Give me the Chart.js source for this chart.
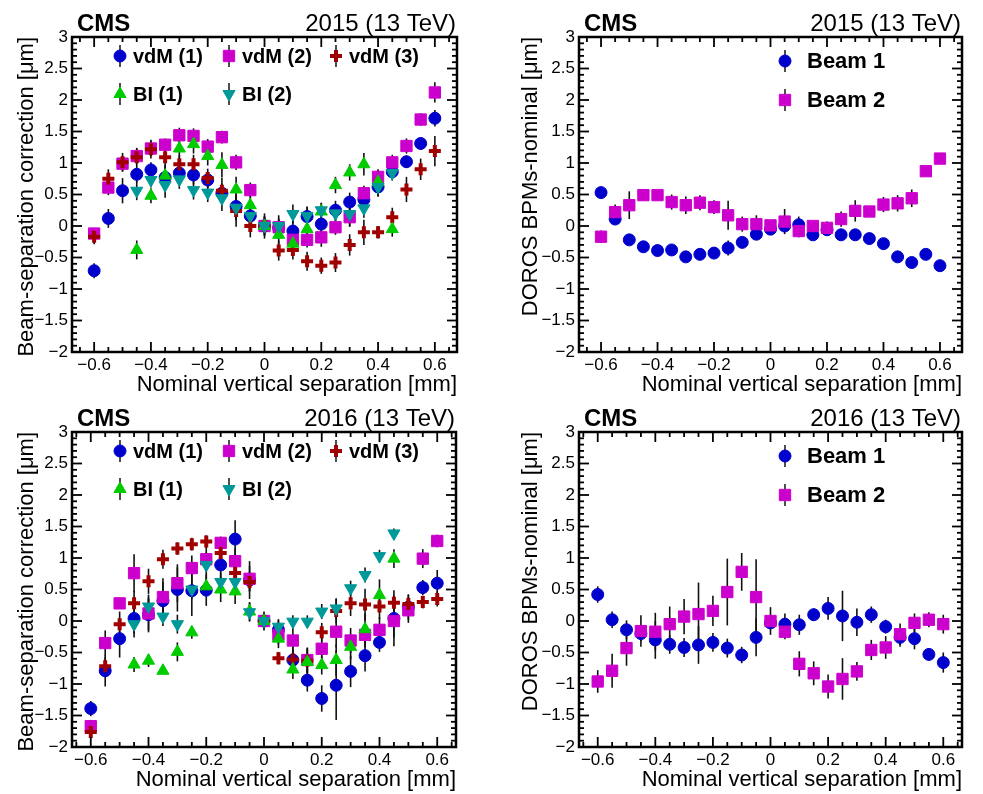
<!DOCTYPE html>
<html>
<head>
<meta charset="utf-8">
<script src="https://cdn.jsdelivr.net/npm/chart.js@4.4.1/dist/chart.umd.min.js"></script>
<style>
  body { margin: 0; background: #fff; }
  #wrap { position: relative; width: 983px; height: 794px; }
  #wrap canvas { position: absolute; left: 0; top: 0; }
</style>
</head>
<body>
<div id="wrap">
  <canvas id="tl" width="983" height="794"></canvas>
  <canvas id="tr" width="983" height="794"></canvas>
  <canvas id="bl" width="983" height="794"></canvas>
  <canvas id="br" width="983" height="794"></canvas>
</div>
<script>
// Scan points (nominal vertical separation, mm)
const sepVdM = [-0.6, -0.55, -0.5, -0.45, -0.4, -0.35, -0.3, -0.25, -0.2, -0.15, -0.1, -0.05, 0,
                0.05, 0.1, 0.15, 0.2, 0.25, 0.3, 0.35, 0.4, 0.45, 0.5, 0.55, 0.6];
const sepBI = [-0.45, -0.4, -0.35, -0.3, -0.25, -0.2, -0.15, -0.1, -0.05, 0,
               0.05, 0.1, 0.15, 0.2, 0.25, 0.3, 0.35, 0.4, 0.45];

// 2015 beam-separation correction [um]
const vdm1_2015 = [-0.71, 0.12, 0.56, 0.82, 0.89, 0.77, 0.84, 0.81, 0.73, 0.52, 0.31, 0.16, 0,
                   -0.03, -0.08, 0.15, 0.03, 0.25, 0.38, 0.42, 0.62, 0.86, 1.02, 1.31, 1.71];
const vdm2_2015 = [-0.12, 0.61, 0.99, 1.11, 1.23, 1.29, 1.44, 1.43, 1.26, 1.41, 1.01, 0.57, 0,
                   -0.02, -0.22, -0.22, -0.18, -0.02, 0.14, 0.52, 0.78, 1.01, 1.27, 1.69, 2.12];
const vdm3_2015 = [-0.17, 0.75, 1.01, 1.09, 1.22, 1.09, 0.98, 0.98, 0.76, 0.56, 0.24, 0, 0,
                   -0.39, -0.38, -0.56, -0.63, -0.58, -0.30, -0.10, -0.10, 0.14, 0.58, 0.90, 1.19];
const bi1_2015 = [-0.38, 0.48, 0.80, 1.23, 1.30, 1.11, 0.97, 0.58, 0.33, 0,
                  -0.14, -0.28, -0.05, 0.23, 0.65, 0.85, 0.98, 0.70, -0.05];
const bi2_2015 = [0.56, 0.73, 0.65, 0.74, 0.57, 0.53, 0.44, 0.29, 0.16, 0,
                  0, 0.19, 0.16, 0.25, 0.20, 0.19, 0.28, 0.62, 0.84];
const vdm1Err_2015 = [0.12, 0.15, 0.2, 0.13, 0.12, 0.2, 0.15, 0.15, 0.13, 0.15, 0.2, 0.2, 0.15,
                      0.15, 0.18, 0.15, 0.15, 0.15, 0.15, 0.2, 0.15, 0.1, 0.1, 0.1, 0.13];
const vdm2Err_2015 = [0.09, 0.12, 0.12, 0.12, 0.12, 0.1, 0.12, 0.12, 0.12, 0.1, 0.12, 0.12, 0.1,
                      0.12, 0.15, 0.12, 0.15, 0.12, 0.15, 0.12, 0.12, 0.12, 0.12, 0.1, 0.16];
const vdm3Err_2015 = [0.12, 0.15, 0.15, 0.15, 0.15, 0.15, 0.15, 0.15, 0.15, 0.2, 0.25, 0.18, 0.2,
                      0.16, 0.15, 0.15, 0.13, 0.15, 0.17, 0.2, 0.1, 0.15, 0.2, 0.17, 0.24];
const bi1Err_2015 = [0.15, 0.12, 0.15, 0.15, 0.15, 0.15, 0.2, 0.2, 0.15, 0.15,
                     0.15, 0.15, 0.15, 0.13, 0.13, 0.13, 0.18, 0.18, 0.12];
const bi2Err_2015 = [0.15, 0.12, 0.2, 0.15, 0.15, 0.15, 0.2, 0.2, 0.15, 0.15,
                     0.17, 0.15, 0.15, 0.12, 0.15, 0.2, 0.15, 0.15, 0.12];

// 2015 DOROS BPMs - nominal [um]
const beam1_2015 = [0.53, 0.11, -0.22, -0.33, -0.39, -0.38, -0.49, -0.45, -0.43, -0.35, -0.26, -0.13, -0.05,
                    0.0, 0.02, -0.14, -0.06, -0.14, -0.14, -0.20, -0.28, -0.49, -0.58, -0.45, -0.63];
const beam2_2015 = [-0.17, 0.22, 0.33, 0.49, 0.49, 0.38, 0.33, 0.37, 0.30, 0.17, 0.03, 0.03, 0.01,
                    0.07, -0.08, 0.0, -0.03, 0.11, 0.24, 0.23, 0.34, 0.36, 0.44, 0.87, 1.07];
const beam1Err_2015 = [0.05, 0.05, 0.04, 0.04, 0.04, 0.04, 0.04, 0.04, 0.04, 0.12, 0.08, 0.06, 0.05,
                       0.06, 0.13, 0.05, 0.05, 0.04, 0.04, 0.04, 0.04, 0.04, 0.04, 0.04, 0.04];
const beam2Err_2015 = [0.1, 0.12, 0.22, 0.05, 0.05, 0.12, 0.14, 0.12, 0.11, 0.23, 0.12, 0.14, 0.08,
                       0.2, 0.1, 0.08, 0.1, 0.12, 0.17, 0.05, 0.12, 0.13, 0.14, 0.05, 0.05];

// 2016 beam-separation correction [um]
const vdm1_2016 = [-1.39, -0.79, -0.28, 0.04, 0.10, 0.32, 0.50, 0.48, 0.49, 0.89, 1.30, 0.65, 0,
                   -0.14, -0.62, -0.94, -1.23, -1.02, -0.80, -0.55, -0.34, 0.04, 0.22, 0.53, 0.60];
const vdm2_2016 = [-1.67, -0.35, 0.28, 0.76, 0.12, 0.38, 0.60, 0.84, 0.98, 1.24, 0.95, 0.67, 0,
                   -0.22, -0.31, -0.62, -0.44, -0.17, -0.31, -0.22, -0.14, 0.0, 0.17, 0.99, 1.27];
const vdm3_2016 = [-1.76, -0.72, -0.05, 0.28, 0.63, 0.98, 1.15, 1.22, 1.26, 1.08, 0.76, 0.62, 0,
                   -0.59, -0.61, -0.63, -0.18, 0.16, 0.28, 0.26, 0.23, 0.29, 0.27, 0.30, 0.35];
const bi1_2016 = [-0.69, -0.63, -0.79, -0.49, -0.18, 0.55, 0.50, 0.47, 0.15, 0,
                  -0.28, -0.77, -0.65, -0.70, -0.62, -0.41, -0.13, 0.41, 0.99];
const bi2_2016 = [-0.05, 0.23, 0.07, -0.05, 0.50, 0.89, 0.62, 0.62, 0.14, 0,
                  -0.09, -0.01, -0.01, 0.15, 0.20, 0.52, 0.73, 1.03, 1.39];
const vdm1Err_2016 = [0.12, 0.25, 0.3, 0.3, 0.25, 0.3, 0.35, 0.4, 0.25, 0.3, 0.3, 0.3, 0.15,
                      0.15, 0.16, 0.18, 0.21, 0.55, 0.25, 0.25, 0.15, 0.3, 0.2, 0.12, 0.21];
const vdm2Err_2016 = [0.1, 0.2, 0.05, 0.3, 0.3, 0.3, 0.3, 0.2, 0.2, 0.1, 0.2, 0.2, 0.1,
                      0.15, 0.2, 0.2, 0.25, 0.25, 0.2, 0.2, 0.2, 0.4, 0.2, 0.15, 0.1];
const vdm3Err_2016 = [0.08, 0.15, 0.2, 0.2, 0.2, 0.15, 0.1, 0.1, 0.1, 0.15, 0.12, 0.15, 0.12,
                      0.1, 0.2, 0.2, 0.15, 0.2, 0.2, 0.25, 0.2, 0.2, 0.15, 0.1, 0.12];
const bi1Err_2016 = [0.12, 0.1, 0.06, 0.15, 0.1, 0.15, 0.2, 0.2, 0.15, 0.1,
                     0.15, 0.15, 0.2, 0.15, 0.25, 0.2, 0.25, 0.25, 0.15];
const bi2Err_2016 = [0.15, 0.15, 0.15, 0.15, 0.15, 0.2, 0.15, 0.2, 0.15, 0.12,
                     0.12, 0.1, 0.1, 0.12, 0.15, 0.12, 0.12, 0.1, 0.08];

// 2016 DOROS BPMs - nominal [um]
const beam1_2016 = [0.42, 0.02, -0.14, -0.20, -0.30, -0.37, -0.42, -0.38, -0.34, -0.43, -0.54, -0.26, -0.03,
                    -0.05, -0.06, 0.10, 0.20, 0.08, -0.02, 0.10, -0.09, -0.26, -0.28, -0.53, -0.66];
const beam2_2016 = [-0.96, -0.79, -0.43, -0.16, -0.17, -0.05, 0.07, 0.11, 0.16, 0.46, 0.78, 0.38, 0,
                    -0.17, -0.68, -0.83, -1.04, -0.92, -0.80, -0.46, -0.42, -0.21, -0.03, 0.02, -0.05];
const beam1Err_2016 = [0.13, 0.13, 0.15, 0.12, 0.3, 0.15, 0.15, 0.3, 0.15, 0.15, 0.13, 0.3, 0.1,
                       0.17, 0.16, 0.1, 0.18, 0.4, 0.22, 0.13, 0.11, 0.15, 0.17, 0.1, 0.16];
const beam2Err_2016 = [0.18, 0.27, 0.28, 0.25, 0.3, 0.28, 0.28, 0.5, 0.24, 0.53, 0.3, 0.6, 0.22,
                       0.12, 0.2, 0.19, 0.19, 0.33, 0.15, 0.16, 0.18, 0.17, 0.15, 0.12, 0.15];

const W = 983, H = 794;
const FONT = "'Liberation Sans', Arial, Helvetica, sans-serif";

// marker styles, ROOT-like
const mk = {
    vdm1: { label: 'vdM (1)', color: '#0000cc', pointStyle: 'circle', radius: 6, border: 1, rotation: 0 },
    vdm2: { label: 'vdM (2)', color: '#cc00cc', pointStyle: 'rect', radius: 8, border: 1, rotation: 0 },
    vdm3: { label: 'vdM (3)', color: '#a00000', pointStyle: 'cross', radius: 6, border: 4, rotation: 0 },
    bi1: { label: 'BI (1)', color: '#00cc00', pointStyle: 'triangle', radius: 7, border: 1, rotation: 0 },
    bi2: { label: 'BI (2)', color: '#009999', pointStyle: 'triangle', radius: 7, border: 1, rotation: 180 },
    b1: { label: 'Beam 1', color: '#0000cc', pointStyle: 'circle', radius: 6, border: 1, rotation: 0 },
    b2: { label: 'Beam 2', color: '#cc00cc', pointStyle: 'rect', radius: 8, border: 1, rotation: 0 },
};

const series = (st, xs, ys, errs, order) => ({
    label: st.label,
    data: xs.map((x, i) => ({ x: x, y: ys[i] })),
    errY: errs,
    pointStyle: st.pointStyle,
    pointRadius: st.radius,
    pointRotation: st.rotation,
    pointBackgroundColor: st.color,
    pointBorderColor: st.color,
    pointBorderWidth: st.border,
    showLine: false,
    order: order,
});

const fmt = (v) => {
    const r = Math.round(v * 100) / 100;
    return r < 0 ? '\u2212' + (-r) : String(r);
};

// error bars drawn under the markers
const errorBars = {
    id: 'errorBars',
    beforeDatasetsDraw(chart) {
        const { ctx, scales: { x, y } } = chart;
        ctx.save();
        ctx.strokeStyle = '#111';
        ctx.lineWidth = 1.6;
        chart.data.datasets.forEach(ds => {
            ds.data.forEach((pt, i) => {
                const e = ds.errY[i];
                const px = x.getPixelForValue(pt.x);
                ctx.beginPath();
                ctx.moveTo(px, y.getPixelForValue(pt.y - e));
                ctx.lineTo(px, y.getPixelForValue(pt.y + e));
                ctx.stroke();
            });
        });
        ctx.restore();
    }
};

// ROOT style frame with inward ticks on all four sides
const frameTicks = {
    id: 'frameTicks',
    afterDraw(chart) {
        const { ctx, chartArea: a, scales: { x, y } } = chart;
        const seg = (x1, y1, x2, y2) => { ctx.beginPath(); ctx.moveTo(x1, y1); ctx.lineTo(x2, y2); ctx.stroke(); };
        ctx.save();
        ctx.strokeStyle = '#000';
        ctx.lineWidth = 1.8;
        for (let i = -13; i <= 13; i++) {
            const v = i * 0.05;
            if (v < x.min || v > x.max) continue;
            const px = x.getPixelForValue(v);
            const len = i % 4 === 0 ? 10 : 5;
            seg(px, a.bottom, px, a.bottom - len);
            seg(px, a.top, px, a.top + len);
        }
        for (let i = -20; i <= 30; i++) {
            const py = y.getPixelForValue(i * 0.1);
            const len = i % 5 === 0 ? 10 : 5;
            seg(a.left, py, a.left + len, py);
            seg(a.right, py, a.right - len, py);
        }
        ctx.lineWidth = 2.5;
        ctx.strokeRect(a.left, a.top, a.right - a.left, a.bottom - a.top);
        ctx.restore();
    }
};

const drawMarker = (ctx, st, x, y) => {
    ctx.fillStyle = st.color;
    ctx.strokeStyle = st.color;
    ctx.lineWidth = st.border;
    Chart.helpers.drawPoint(ctx, {
        pointStyle: st.pointStyle, radius: st.radius, rotation: st.rotation, borderWidth: st.border
    }, x, y);
};

// CMS label, year and the legend block
const panelText = (p) => ({
    id: 'panelText',
    afterDraw(chart) {
        const { ctx, chartArea: a } = chart;
        ctx.save();
        ctx.fillStyle = '#000';
        ctx.textBaseline = 'alphabetic';
        ctx.font = 'bold 24px ' + FONT;
        ctx.textAlign = 'left';
        ctx.fillText('CMS', a.left + 5, a.top - 6);
        ctx.font = '24px ' + FONT;
        ctx.textAlign = 'right';
        ctx.fillText(p.year, a.right - 1, a.top - 6);

        p.legend.items.forEach(it => {
            const lx = a.left + it.dx, ly = a.top + it.dy;
            ctx.strokeStyle = '#222';
            ctx.lineWidth = 1.6;
            ctx.beginPath();
            ctx.moveTo(lx, ly - 11);
            ctx.lineTo(lx, ly + 11);
            ctx.stroke();
            drawMarker(ctx, it.st, lx, ly);
            ctx.fillStyle = '#000';
            ctx.font = p.legend.font;
            ctx.textAlign = 'left';
            ctx.textBaseline = 'middle';
            ctx.fillText(it.st.label, lx + p.legend.gap, ly + 1);
        });
        ctx.restore();
    }
});

const vdmLegend = {
    font: 'bold 20px ' + FONT,
    gap: 13,
    items: [
        { st: mk.vdm1, dx: 48, dy: 19 },
        { st: mk.vdm2, dx: 157, dy: 19 },
        { st: mk.vdm3, dx: 264, dy: 19 },
        { st: mk.bi1, dx: 48, dy: 57 },
        { st: mk.bi2, dx: 157, dy: 57 },
    ]
};
const beamLegend = {
    font: 'bold 22px ' + FONT,
    gap: 22,
    items: [
        { st: mk.b1, dx: 206, dy: 24 },
        { st: mk.b2, dx: 206, dy: 63 },
    ]
};

const panels = [
    {
        id: 'tl', area: { l: 72, t: 37, r: 457, b: 352 }, padLeft: 0, yTitlePad: 14, xr: 0.678,
        yTitle: 'Beam-separation correction [\u03bcm]', year: '2015 (13 TeV)', legend: vdmLegend,
        datasets: [
            series(mk.vdm1, sepVdM, vdm1_2015, vdm1Err_2015, 5),
            series(mk.vdm2, sepVdM, vdm2_2015, vdm2Err_2015, 4),
            series(mk.vdm3, sepVdM, vdm3_2015, vdm3Err_2015, 3),
            series(mk.bi1, sepBI, bi1_2015, bi1Err_2015, 2),
            series(mk.bi2, sepBI, bi2_2015, bi2Err_2015, 1),
        ]
    },
    {
        id: 'tr', area: { l: 579, t: 37, r: 962, b: 352 }, padLeft: 491, yTitlePad: 27, xr: 0.678,
        yTitle: 'DOROS BPMs-nominal [\u03bcm]', year: '2015 (13 TeV)', legend: beamLegend,
        datasets: [
            series(mk.b1, sepVdM, beam1_2015, beam1Err_2015, 2),
            series(mk.b2, sepVdM, beam2_2015, beam2Err_2015, 1),
        ]
    },
    {
        id: 'bl', area: { l: 72, t: 432, r: 456, b: 747 }, padLeft: 0, yTitlePad: 14, xr: 0.665,
        yTitle: 'Beam-separation correction [\u03bcm]', year: '2016 (13 TeV)', legend: vdmLegend,
        datasets: [
            series(mk.vdm1, sepVdM, vdm1_2016, vdm1Err_2016, 5),
            series(mk.vdm2, sepVdM, vdm2_2016, vdm2Err_2016, 4),
            series(mk.vdm3, sepVdM, vdm3_2016, vdm3Err_2016, 3),
            series(mk.bi1, sepBI, bi1_2016, bi1Err_2016, 2),
            series(mk.bi2, sepBI, bi2_2016, bi2Err_2016, 1),
        ]
    },
    {
        id: 'br', area: { l: 579, t: 432, r: 962, b: 747 }, padLeft: 491, yTitlePad: 27, xr: 0.665,
        yTitle: 'DOROS BPMs-nominal [\u03bcm]', year: '2016 (13 TeV)', legend: beamLegend,
        datasets: [
            series(mk.b1, sepVdM, beam1_2016, beam1Err_2016, 2),
            series(mk.b2, sepVdM, beam2_2016, beam2Err_2016, 1),
        ]
    },
];

const X_AXIS_H = 46;

panels.forEach(p => {
    const ctx = document.getElementById(p.id);
    new Chart(ctx, {
        type: 'scatter',
        data: { datasets: p.datasets },
        options: {
            animation: false,
            responsive: false,
            events: [],
            layout: {
                padding: { left: p.padLeft, top: p.area.t, right: W - p.area.r, bottom: H - p.area.b - X_AXIS_H },
            },
            plugins: {
                legend: { display: false },
                tooltip: { enabled: false },
            },
            scales: {
                x: {
                    type: 'linear',
                    min: -p.xr,
                    max: p.xr,
                    grid: { display: false, drawTicks: false },
                    border: { display: false },
                    ticks: {
                        stepSize: 0.2,
                        includeBounds: false,
                        autoSkip: false,
                        maxRotation: 0,
                        padding: 3,
                        color: '#000',
                        font: { family: FONT, size: 17 },
                        callback: fmt,
                    },
                    title: {
                        display: true,
                        text: 'Nominal vertical separation [mm]',
                        align: 'end',
                        color: '#000',
                        font: { family: FONT, size: 22 },
                        padding: 0,
                    },
                    afterFit: (s) => { s.height = X_AXIS_H; },
                },
                y: {
                    min: -2,
                    max: 3,
                    grid: { display: false, drawTicks: false },
                    border: { display: false },
                    ticks: {
                        stepSize: 0.5,
                        autoSkip: false,
                        padding: 4,
                        color: '#000',
                        font: { family: FONT, size: 17 },
                        callback: fmt,
                    },
                    title: {
                        display: true,
                        text: p.yTitle,
                        align: 'end',
                        color: '#000',
                        font: { family: FONT, size: 22 },
                        padding: { top: p.yTitlePad, bottom: 0 },
                    },
                    afterFit: (s) => { s.width = p.area.l - p.padLeft; },
                },
            },
        },
        plugins: [errorBars, frameTicks, panelText(p)],
    });
});
</script>
</body>
</html>
